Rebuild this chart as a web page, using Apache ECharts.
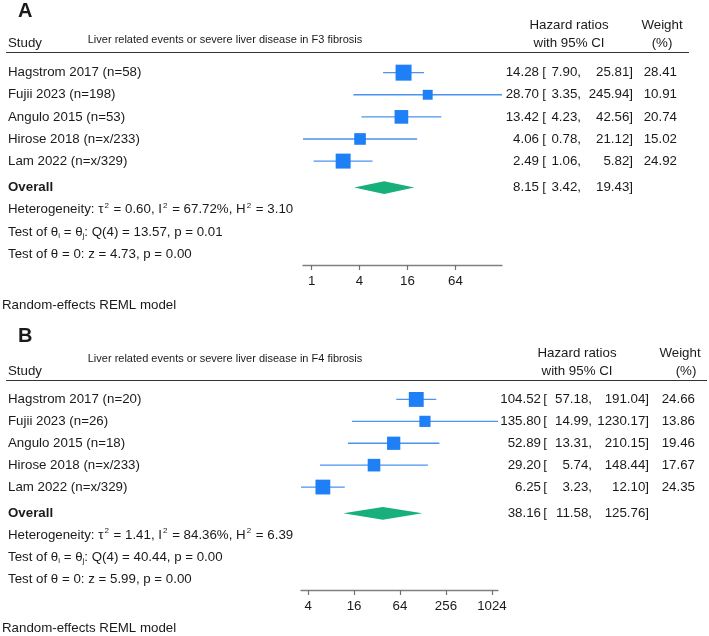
<!DOCTYPE html>
<html>
<head>
<meta charset="utf-8" />
<title>Forest plots</title>
<script src="https://cdn.jsdelivr.net/npm/echarts@6/dist/echarts.min.js"></script>
<style>
  html, body { margin: 0; padding: 0; background: #fff; }
  #main { width: 709px; height: 636px; }
</style>
</head>
<body>
<div id="main"></div>
<script>
// ---- panel A: F3 fibrosis ----
var studiesA = ['Hagstrom 2017 (n=58)', 'Fujii 2023 (n=198)', 'Angulo 2015 (n=53)', 'Hirose 2018 (n=x/233)', 'Lam 2022 (n=x/329)'];
var hrA = [14.28, 28.70, 13.42, 4.06, 2.49];
var lowerA = [7.90, 3.35, 4.23, 0.78, 1.06];
var upperA = [25.81, 245.94, 42.56, 21.12, 5.82];
var weightA = [28.41, 10.91, 20.74, 15.02, 24.92];
var overallA = [8.15, 3.42, 19.43];          // estimate, lower, upper
var statsA = [0.60, 67.72, 3.10, 13.57, 0.01, 4.73, 0.00]; // tau2, I2, H2, Q, p, z, p
var ticksA = [1, 4, 16, 64];

// ---- panel B: F4 fibrosis ----
var studiesB = ['Hagstrom 2017 (n=20)', 'Fujii 2023 (n=26)', 'Angulo 2015 (n=18)', 'Hirose 2018 (n=x/233)', 'Lam 2022 (n=x/329)'];
var hrB = [104.52, 135.80, 52.89, 29.20, 6.25];
var lowerB = [57.18, 14.99, 13.31, 5.74, 3.23];
var upperB = [191.04, 1230.17, 210.15, 148.44, 12.10];
var weightB = [24.66, 13.86, 19.46, 17.67, 24.35];
var overallB = [38.16, 11.58, 125.76];
var statsB = [1.41, 84.36, 6.39, 40.44, 0.00, 5.99, 0.00];
var ticksB = [4, 16, 64, 256, 1024];

var FONT = '"Liberation Sans", Arial, sans-serif';
var TXT = '#1a1a1a';
var FS = 13.3;
var GAP = 0.2;   // extra space above the overall row

function rowsFor(n) {
    var r = [];
    for (var i = 0; i < n; i++) r.push(i);
    for (var j = 0; j < 4; j++) r.push(n + j + GAP);
    return r;
}

function findRow(rows, v) {
    for (var i = 0; i < rows.length; i++) {
        if (Math.abs(rows[i] - v) < 1e-6) return i;
    }
    return -1;
}

function leftTexts(names, stats) {
    var f = function (x) { return x.toFixed(2); };
    return names.map(function (n) { return '{n|' + n + '}'; }).concat([
        '{b|Overall}',
        '{n|Heterogeneity: τ}{sup|2}{n| = ' + f(stats[0]) + ', I}{sup|2}{n| = ' + f(stats[1]) + '%, H}{sup|2}{n| = ' + f(stats[2]) + '}',
        '{n|Test of θ}{sub|i}{n| = θ}{sub|j}{n|: Q(' + (names.length - 1) + ') = ' + f(stats[3]) + ', p = ' + f(stats[4]) + '}',
        '{n|Test of θ = 0: z = ' + f(stats[5]) + ', p = ' + f(stats[6]) + '}'
    ]);
}

function rightTexts(hr, lo, up, w, overall) {
    var out = [];
    for (var i = 0; i < hr.length; i++) {
        out.push('{hr|' + hr[i].toFixed(2) + '}{lb|[}{lo|' + lo[i].toFixed(2) + ',}{hi|' + up[i].toFixed(2) + ']}{w|' + w[i].toFixed(2) + '}');
    }
    out.push('{hr|' + overall[0].toFixed(2) + '}{lb|[}{lo|' + overall[1].toFixed(2) + ',}{hi|' + overall[2].toFixed(2) + ']}{w| }');
    return out;
}

function txtStyle(extra) {
    var s = { fontFamily: FONT, fontSize: FS, color: TXT, lineHeight: 16 };
    for (var k in extra) s[k] = extra[k];
    return s;
}

var option = {
    animation: false,
    grid: [], xAxis: [], yAxis: [], series: [], graphic: []
};

function addPanel(p, d) {
    var n = d.names.length;
    var rows = rowsFor(n);
    var left = leftTexts(d.names, d.stats);
    var right = rightTexts(d.hr, d.lo, d.up, d.w, d.overall);
    var minX = Math.log2(Math.min.apply(null, d.lo));
    var maxX = Math.log2(Math.max.apply(null, d.up));
    var tickVals = d.ticks.map(Math.log2);

    option.grid.push({ left: d.box[0], right: 709 - d.box[1], top: d.box[2], height: d.box[3] - d.box[2], outerBoundsMode: 'none' });
    option.xAxis.push({
        type: 'value', gridIndex: p, min: minX, max: maxX, position: 'bottom',
        axisLine: { show: true, onZero: false, lineStyle: { color: '#808080', width: 1.3 } },
        axisTick: { show: true, length: 5, customValues: tickVals, lineStyle: { color: '#707070', width: 1.2 } },
        axisLabel: {
            customValues: tickVals, margin: 10, fontFamily: FONT, fontSize: FS, color: TXT,
            formatter: function (v) { return String(Math.round(Math.pow(2, v))); }
        },
        splitLine: { show: false }
    });
    var yBase = { type: 'value', gridIndex: p, inverse: true, min: -0.5, max: n + 3 + GAP + 0.5,
        axisLine: { show: false, onZero: false }, axisTick: { show: false }, splitLine: { show: false } };
    option.yAxis.push(Object.assign({}, yBase, {
        position: 'left',
        axisLabel: {
            customValues: rows, align: 'left', margin: d.box[0] - 8,
            formatter: function (v) { return left[findRow(rows, v)] || ''; },
            rich: {
                n: txtStyle({}),
                b: txtStyle({ fontWeight: 'bold' }),
                sup: txtStyle({ fontSize: 8, lineHeight: 8, verticalAlign: 'top', padding: [0, 1, 0, 1] }),
                sub: txtStyle({ fontSize: 8, lineHeight: 8, verticalAlign: 'bottom' })
            }
        }
    }));
    var rw = d.cols;
    option.yAxis.push(Object.assign({}, yBase, {
        position: 'right',
        axisLabel: {
            customValues: rows.slice(0, n + 1), margin: 2,
            formatter: function (v) { return right[findRow(rows, v)] || ''; },
            rich: {
                hr: txtStyle({ width: rw[0], align: 'right' }),
                lb: txtStyle({ width: rw[1], align: 'right' }),
                lo: txtStyle({ width: rw[2], align: 'right' }),
                hi: txtStyle({ width: rw[3], align: 'right' }),
                w: txtStyle({ width: rw[4], align: 'right' })
            }
        }
    }));

    var studyData = d.hr.map(function (h, i) {
        return [Math.log2(d.lo[i]), Math.log2(d.up[i]), Math.log2(h), rows[i], d.w[i]];
    });
    option.series.push({
        type: 'custom', xAxisIndex: p, yAxisIndex: p * 2,
        encode: { x: [0, 1, 2], y: 3 },
        data: studyData,
        renderItem: function (params, api) {
            var a = api.coord([api.value(0), api.value(3)]);
            var b = api.coord([api.value(1), api.value(3)]);
            var c = api.coord([api.value(2), api.value(3)]);
            var s = 3 * Math.sqrt(api.value(4));
            return {
                type: 'group',
                children: [
                    { type: 'line', shape: { x1: a[0], y1: a[1], x2: b[0], y2: b[1] },
                      style: { stroke: '#4a93ee', lineWidth: 1.3 } },
                    { type: 'rect', shape: { x: c[0] - s / 2, y: c[1] - s / 2, width: s, height: s },
                      style: { fill: '#1e7ff6' } }
                ]
            };
        }
    });
    option.series.push({
        type: 'custom', xAxisIndex: p, yAxisIndex: p * 2,
        encode: { x: [0, 1, 2], y: 3 },
        data: [[Math.log2(d.overall[1]), Math.log2(d.overall[2]), Math.log2(d.overall[0]), rows[n]]],
        renderItem: function (params, api) {
            var a = api.coord([api.value(0), api.value(3)]);
            var b = api.coord([api.value(1), api.value(3)]);
            var c = api.coord([api.value(2), api.value(3)]);
            var h = 6.3;
            return {
                type: 'polygon',
                shape: { points: [[a[0], a[1]], [c[0], c[1] - h], [b[0], b[1]], [c[0], c[1] + h]] },
                style: { fill: '#18b07a' }
            };
        }
    });

    // headers and notes
    var g = d.head;
    function t(text, x, y, align, font) {
        option.graphic.push({ type: 'text', x: x, y: y,
            style: { text: text, fill: TXT, font: font || (FS + 'px ' + FONT), textAlign: align || 'left', textVerticalAlign: 'middle' } });
    }
    t(d.letter, 18, g.letterY, 'left', 'bold 20px ' + FONT);
    t('Study', 8, g.studyY);
    t(d.title, g.titleX, g.titleY, 'center', '11px ' + FONT);
    t('Hazard ratios', g.hrX, g.row1, 'center');
    t('with 95% CI', g.hrX, g.row2, 'center');
    t('Weight', g.wX, g.row1, 'center');
    t('(%)', g.pX, g.row2, 'center');
    t('Random-effects REML model', 2, g.noteY);
    option.graphic.push({ type: 'line', shape: { x1: 6, y1: g.lineY, x2: g.lineEnd, y2: g.lineY },
        style: { stroke: '#333', lineWidth: 1.2 } });
}

addPanel(0, {
    names: studiesA, hr: hrA, lo: lowerA, up: upperA, w: weightA, overall: overallA, stats: statsA, ticks: ticksA,
    letter: 'A', title: 'Liver related events or severe liver disease in F3 fibrosis',
    box: [303, 502, 61.6, 265],
    cols: [35, 7, 35, 52, 44],
    head: { letterY: 11, studyY: 43, titleX: 225, titleY: 40, hrX: 569, wX: 662, pX: 662, row1: 25, row2: 43, noteY: 305, lineY: 52.5, lineEnd: 689 }
});
addPanel(1, {
    names: studiesB, hr: hrB, lo: lowerB, up: upperB, w: weightB, overall: overallB, stats: statsB, ticks: ticksB,
    letter: 'B', title: 'Liver related events or severe liver disease in F4 fibrosis',
    box: [301, 498, 388.5, 590],
    cols: [41, 6, 45, 57, 46],
    head: { letterY: 336, studyY: 371, titleX: 225, titleY: 359, hrX: 577, wX: 680, pX: 686, row1: 353, row2: 371, noteY: 628, lineY: 380.5, lineEnd: 707 }
});

var chart = echarts.init(document.getElementById('main'), null, { renderer: 'canvas' });
chart.setOption(option);
</script>
</body>
</html>
